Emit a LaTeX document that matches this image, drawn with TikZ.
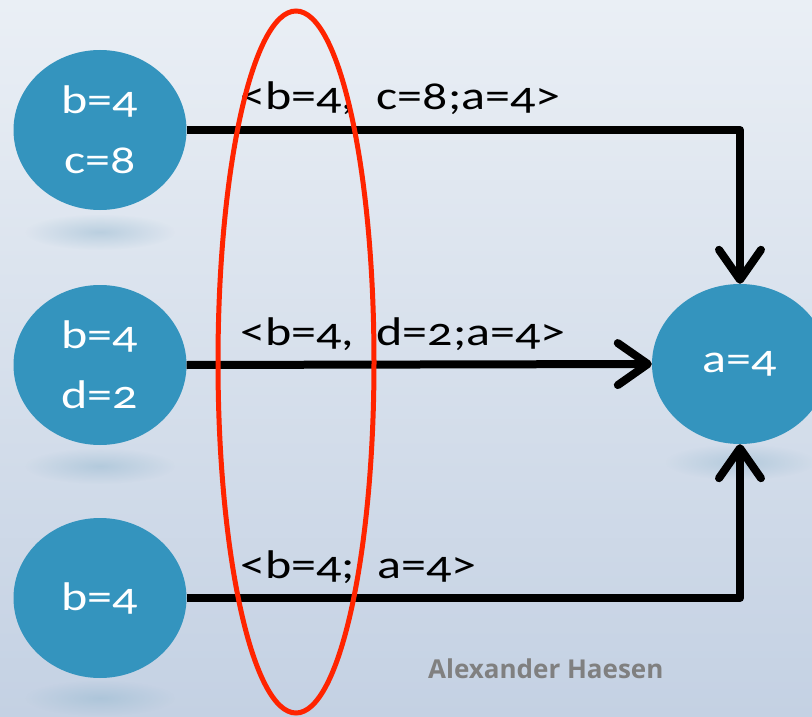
\documentclass[tikz,border=0pt]{standalone}
\usepackage{fontspec}
\setmainfont{Carlito}[Numbers=OldStyle, FakeStretch=1.25]
\newfontfamily\signfont{Open Sans}
\usetikzlibrary{shapes.geometric,arrows.meta,fadings}

\definecolor{bgtop}{RGB}{234,239,245}
\definecolor{bgbottom}{RGB}{196,209,227}
\definecolor{varblue}{RGB}{52,148,190}
\definecolor{shadowblue}{RGB}{150,185,208}
\definecolor{ringred}{RGB}{255,36,0}
\tikzfading[name=softshadow, inner color=transparent!50, outer color=transparent!100]

\begin{document}
\begin{tikzpicture}[x=1pt, y=-1pt,
  varnode/.style={ellipse, fill=varblue, text=white, inner sep=0pt,
    minimum width=173, minimum height=160, align=center,
    font=\fontsize{40}{60}\selectfont},
  msg/.style={anchor=base west, inner sep=0pt, font=\fontsize{40}{48}\selectfont},
  link/.style={line width=8pt, line join=round,
    -{Straight Barb[length=30pt, width=42pt, round]}},
  shadow/.style={shadowblue, path fading=softshadow}]
\useasboundingbox (0,0) rectangle (812,717);
\clip (0,0) rectangle (812,717);
\shade[top color=bgtop, bottom color=bgbottom] (0,0) rectangle (812,717);

% shadows under the nodes
\fill[shadow] (100,232) ellipse (75 and 18);
\fill[shadow] (100,466) ellipse (75 and 18);
\fill[shadow] (100,698) ellipse (75 and 18);
\fill[shadow] (740,462) ellipse (75 and 18);

% nodes
\node[varnode] (bc) at (100,130) {b=4\\c=8};
\node[varnode] (bd) at (100,365) {b=4\\d=2};
\node[varnode] (b) at (100,598) {b=4};
\node[varnode, minimum width=176] (a) at (740,364) {a=4};

% messages
\draw[link] (bc.east) -| (a.north);
\draw[link] (bd.east) -- (a.west);
\draw[link] (b.east) -| (a.south);
\node[msg] (mbc) at (240,110) {<b=4,\ \ c=8;a=4>};
\node[msg] (mbd) at (240,345) {<b=4,\ \ d=2;a=4>};
\node[msg] (mb) at (240,578) {<b=4;\ \ a=4>};

% cut
\draw[ringred, line width=5pt] (296,362) ellipse (78 and 351);

\node[anchor=base west, inner sep=0pt, text=black!50,
  font=\signfont\bfseries\fontsize{26}{30}\selectfont] (author) at (428,678) {Alexander Haesen};
\end{tikzpicture}
\end{document}
